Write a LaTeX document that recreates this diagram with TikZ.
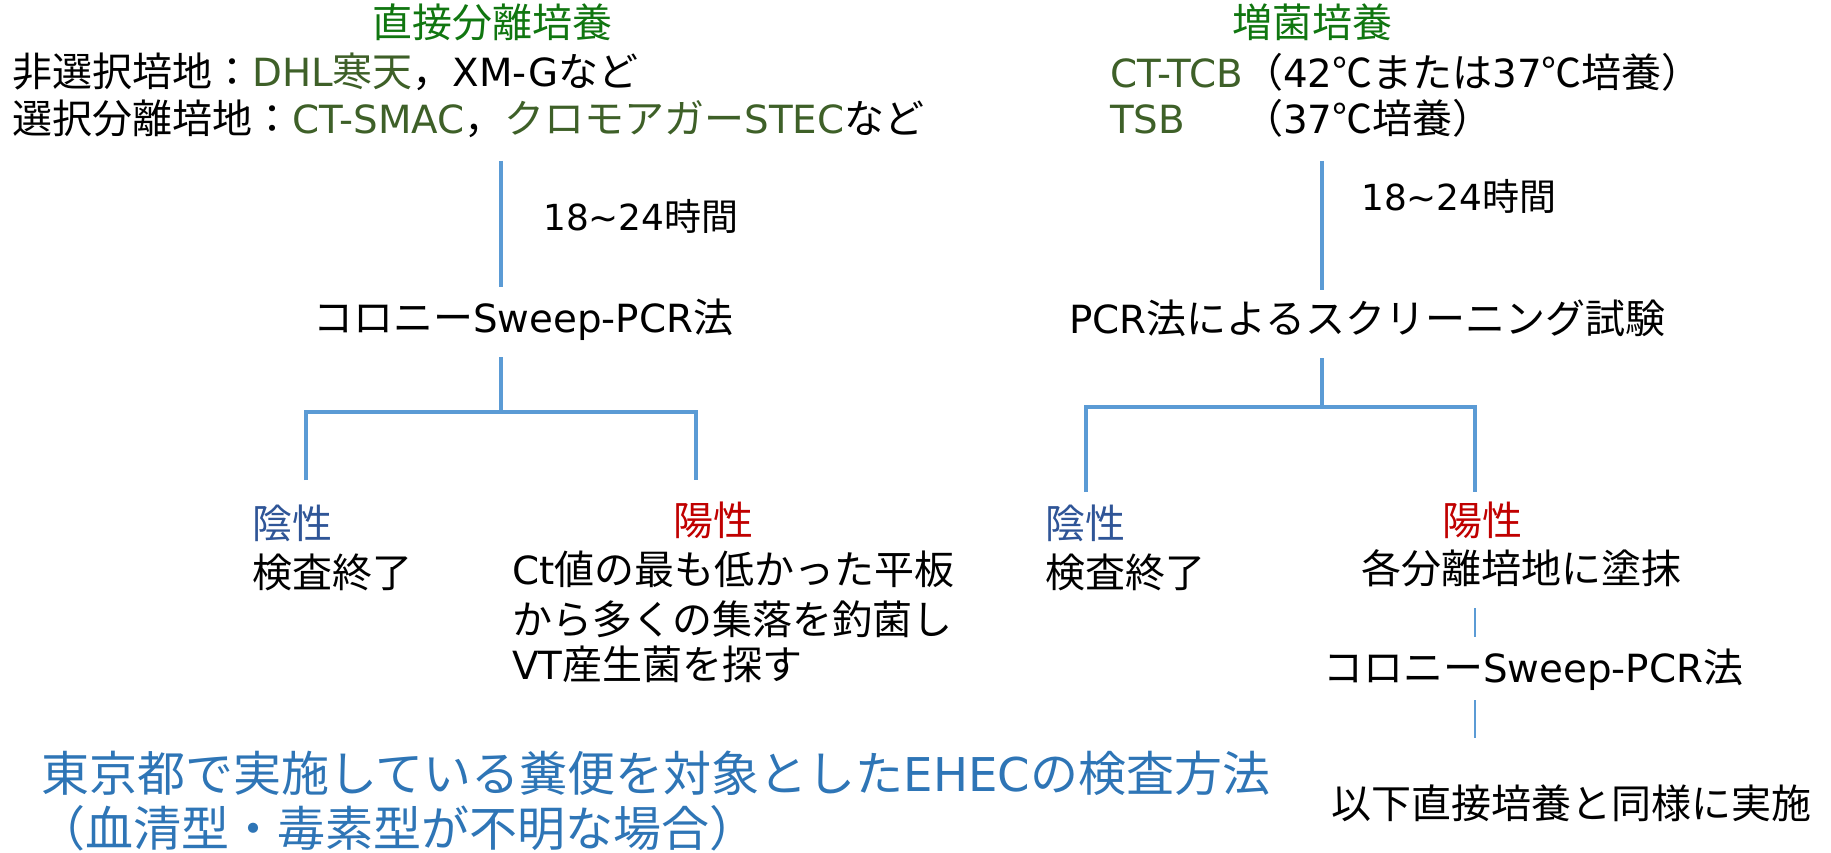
\documentclass[tikz,border=0pt]{standalone}
\usepackage{fontspec}
\usepackage{calc}
\setmainfont{Noto Sans CJK JP}
\newfontfamily\lat{DejaVu Sans}[Scale=0.97]
\definecolor{hdrgreen}{RGB}{16,118,16}
\definecolor{medgreen}{RGB}{62,96,40}
\definecolor{negblue}{RGB}{47,85,151}
\definecolor{posred}{RGB}{192,0,0}
\definecolor{ttlblue}{RGB}{46,117,182}
\definecolor{lnblue}{RGB}{91,155,213}
\begin{document}
\begin{tikzpicture}[x=1pt,y=-1pt,
  txt/.style={inner sep=0pt, anchor=west, font=\fontsize{40}{48}\selectfont, text height=35pt, text depth=5pt},
  smalltxt/.style={txt, font=\fontsize{37}{44}\selectfont, text height=32pt, text depth=5pt},
  ttltxt/.style={txt, font=\fontsize{48}{56}\selectfont, text height=42pt, text depth=6pt, text=ttlblue},
  conn/.style={draw=lnblue, line width=3.5pt},
  thinconn/.style={draw=lnblue, line width=2.5pt}]
\useasboundingbox (0,0) rectangle (1831,853);
% left column texts
\node[txt, text=hdrgreen] (hL) at (372,23) {直接分離培養};
\node[txt] (m1) at (12,72) {非選択培地：\textcolor{medgreen}{{\lat DHL}寒天}，{\lat XM-G}など};
\node[txt] (m2) at (12,119) {選択分離培地：\textcolor{medgreen}{\lat CT-SMAC}，\textcolor{medgreen}{クロモアガー{\lat STEC}}など};
\node[smalltxt] (d1) at (543,217) {{\lat 18\string~24}時間};
\node[txt] (c1) at (313,317) {コロニー{\lat Sweep-PCR}法};
\node[txt, text=negblue] (nL) at (252,523) {陰性};
\node[txt] (eL) at (252,572) {検査終了};
\node[txt, text=posred] (pL) at (673,520) {陽性};
\node[txt] (ct1) at (512,569) {{\lat Ct}値の最も低かった平板};
\node[txt] (ct2) at (512,619) {から多くの集落を釣菌し};
\node[txt] (ct3) at (512,664) {{\lat VT}産生菌を探す};
% right column texts
\node[txt, text=hdrgreen] (hR) at (1232,23) {増菌培養};
\node[txt] (t1) at (1110,73) {\textcolor{medgreen}{\lat CT-TCB}（{\lat 42}℃または{\lat 37}℃培養）};
\node[txt] (t2) at (1110,119) {\makebox[\widthof{\lat CT-TCB}][l]{\textcolor{medgreen}{\lat TSB}}（{\lat 37}℃培養）};
\node[smalltxt] (d2) at (1361,197) {{\lat 18\string~24}時間};
\node[txt] (p1) at (1069,318) {{\lat PCR}法によるスクリーニング試験};
\node[txt, text=negblue] (nR) at (1045,523) {陰性};
\node[txt] (eR) at (1045,572) {検査終了};
\node[txt, text=posred] (pR) at (1442,520) {陽性};
\node[txt] (s1) at (1361,568) {各分離培地に塗抹};
\node[txt] (c2) at (1323,667) {コロニー{\lat Sweep-PCR}法};
\node[txt] (f1) at (1331,803) {以下直接培養と同様に実施};
% title
\node[ttltxt] (T1) at (41,773) {東京都で実施している糞便を対象とした{\lat EHEC}の検査方法};
\node[ttltxt] (T2) at (37,828) {（血清型・毒素型が不明な場合）};
% connector coordinates, left
\coordinate (l1a) at (501,161);
\coordinate (l1b) at (501,287);
\coordinate (l2a) at (501,357);
\coordinate (l2b) at (501,412);
\coordinate (lLt) at (306,412);
\coordinate (lLb) at (306,480);
\coordinate (lRt) at (696,412);
\coordinate (lRb) at (696,480);
% right
\coordinate (r1a) at (1322,161);
\coordinate (r1b) at (1322,290);
\coordinate (r2a) at (1322,358);
\coordinate (r2b) at (1322,407);
\coordinate (rLt) at (1086,407);
\coordinate (rLb) at (1086,492);
\coordinate (rRt) at (1475,407);
\coordinate (rRb) at (1475,492);
\coordinate (r3a) at (1475,608);
\coordinate (r3b) at (1475,637);
\coordinate (r4a) at (1475,700);
\coordinate (r4b) at (1475,738);
\draw[conn] (l1a) -- (l1b);
\draw[conn] (l2a) -- (l2b);
\draw[conn] (lLb) -- (lLt) -- (lRt) -- (lRb);
\draw[conn] (r1a) -- (r1b);
\draw[conn] (r2a) -- (r2b);
\draw[conn] (rLb) -- (rLt) -- (rRt) -- (rRb);
\draw[thinconn] (r3a) -- (r3b);
\draw[thinconn] (r4a) -- (r4b);
\end{tikzpicture}
\end{document}
